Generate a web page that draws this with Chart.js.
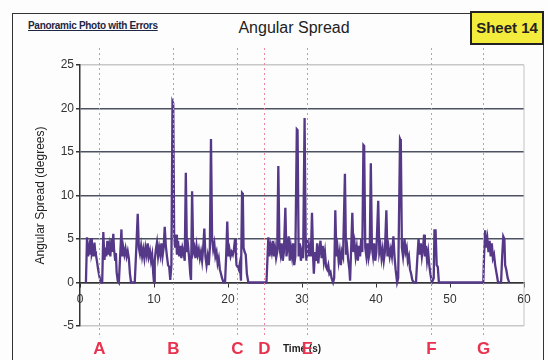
<!DOCTYPE html>
<html>
<head>
<meta charset="utf-8">
<script src="https://cdn.jsdelivr.net/npm/chart.js@4/dist/chart.umd.min.js"></script>
<style>
  body { margin: 0; background: #fdfdfd; font-family: "Liberation Sans", Arial, sans-serif; }
  #wrap { position: relative; width: 549px; height: 360px; overflow: hidden; }
  #frame { position: absolute; left: 12px; top: 13px; width: 530px; height: 360px; border: 1.5px solid #333; }
  #sub { position: absolute; left: 28px; top: 20px; font-size: 10px; font-weight: bold; color: #1d2744; text-decoration: underline; letter-spacing: -0.3px; }
  #title { position: absolute; left: 194px; width: 200px; top: 19px; text-align: center; font-size: 16px; color: #222; }
  #sheet { position: absolute; left: 470px; top: 11px; width: 70px; height: 30px; background: #f4ec3c; border: 2px solid #222; font-size: 15px; font-weight: bold; color: #222; text-align: center; line-height: 30px; }
  canvas { position: absolute; left: 0; top: 0; }
</style>
</head>
<body>
<div id="wrap">
  <div id="frame"></div>
  <div id="sub">Panoramic Photo with Errors</div>
  <div id="title">Angular Spread</div>
  <div id="sheet">Sheet 14</div>
  <canvas id="my-chart" width="549" height="360"></canvas>
</div>
<script>
// time (s) and angular spread (degrees)
let times = [
  0.8, 0.95, 1.1, 1.25, 1.35, 1.5, 1.6, 1.75, 1.85, 1.95, 2.05, 2.15, 2.3, 2.45, 2.6, 2.75, 2.9, 3.0,
  3.15, 3.3, 3.45, 3.55, 3.7, 3.8, 3.95, 4.1, 4.25, 4.35, 4.5, 4.6, 4.75, 4.85, 4.95, 5.1, 5.25,
  5.45, 5.6, 5.7, 5.85, 6.0, 6.15, 6.3, 6.45, 6.6, 6.75, 6.9, 7.4,
  7.6, 7.8, 7.95, 8.1, 8.25, 8.4, 8.55, 8.7, 8.85, 9.0, 9.15, 9.3, 9.45, 9.6, 9.75, 9.9, 10.0,
  10.1, 10.25, 10.4, 10.55, 10.7, 10.85, 11.0, 11.15, 11.3, 11.45, 11.6, 11.75, 11.9, 12.05, 12.2, 12.35,
  12.5, 12.6, 12.72, 12.85, 13.0, 13.1, 13.25, 13.4, 13.55, 13.7, 13.85, 14.0, 14.15,
  14.3, 14.45, 14.6, 14.75, 14.9, 15.0, 15.15, 15.3, 15.45, 15.6, 15.75, 15.9, 16.05, 16.2, 16.35, 16.5, 16.65,
  16.8, 16.95, 17.1, 17.25, 17.4, 17.55, 17.7, 17.85, 18.0, 18.15, 18.3, 18.45, 18.6, 18.75, 18.9, 19.05, 19.2, 19.4, 19.6,
  19.75, 19.9, 20.05, 20.2, 20.35, 20.5, 20.65, 20.8, 20.95, 21.05, 21.15, 21.3, 21.45, 21.6, 21.75,
  21.9, 22.0, 22.1, 22.25, 22.4, 22.55, 22.75, 25.2,
  25.45, 25.6, 25.75, 25.9, 26.05, 26.2, 26.35, 26.5, 26.65, 26.8, 26.95, 27.1, 27.25, 27.4, 27.55,
  27.75, 27.9, 28.05, 28.2, 28.35, 28.5, 28.65, 28.8, 28.95, 29.1, 29.3, 29.4, 29.55, 29.7, 29.85, 30.0, 30.15,
  30.35, 30.5, 30.6, 30.75, 30.9, 31.05, 31.2, 31.35, 31.5, 31.6, 31.75, 31.9, 32.05, 32.2,
  32.35, 32.5, 32.65, 32.8, 32.95, 33.1, 33.25, 33.4, 33.55, 33.7, 33.85, 34.0, 34.2, 34.35,
  34.5, 34.65, 34.8, 34.95, 35.1, 35.25, 35.4, 35.55, 35.8, 35.95, 36.1, 36.25, 36.4, 36.5,
  36.8, 36.95, 37.1, 37.25, 37.4, 37.55, 37.7, 37.85, 38.0, 38.15, 38.3, 38.4, 38.55, 38.7, 38.85, 39.0, 39.15,
  39.3, 39.45, 39.6, 39.75, 39.9, 40.05, 40.3, 40.45, 40.6, 40.75, 40.9, 41.05, 41.2,
  41.4, 41.55, 41.7, 41.85, 42.0, 42.15, 42.35, 42.5, 42.65, 42.85, 43.0,
  43.25, 43.35, 43.5, 43.65, 43.85, 44.0, 44.15, 44.3, 44.45, 44.6, 44.75, 44.9, 45.1, 45.4,
  45.6, 45.75, 45.9, 46.05, 46.2, 46.35, 46.5, 46.6, 46.75, 46.9, 47.05, 47.2, 47.35, 47.55,
  47.8, 47.9, 48.05, 48.2, 48.35, 48.5, 54.5,
  54.6, 54.75, 54.9, 55.05, 55.2, 55.35, 55.5, 55.65, 55.8, 55.95, 56.1, 56.3, 56.5, 56.9,
  57.05, 57.2, 57.35, 57.45, 57.6, 57.8, 58.0
];
let angles = [
  0, 5.2, 3.0, 4.0, 3.2, 5.1, 3.3, 3.8, 3.0, 4.6, 3.6, 3.2, 2.4, 1.5, 0.8, 0.2, 0, 0,
  5.8, 2.6, 4.0, 3.0, 4.8, 3.2, 4.2, 3.0, 5.0, 3.5, 5.6, 3.8, 2.6, 3.4, 1.2, 0.2, 0,
  3.5, 6.1, 3.0, 4.0, 3.2, 3.9, 3.0, 3.6, 2.8, 1.0, 0, 0,
  3.8, 7.9, 4.0, 3.3, 4.2, 3.0, 3.8, 2.8, 4.0, 3.2, 4.5, 3.0, 3.6, 2.5, 3.2, 1.0, 0,
  2.5, 3.8, 4.6, 3.0, 4.0, 3.2, 4.5, 3.0, 4.0, 6.4, 4.2, 3.0, 2.0, 1.8, 0.3, 2.0,
  20.8, 20.6, 5.5, 4.0, 5.5, 3.2, 4.8, 3.0, 4.2, 2.8, 4.0, 3.5, 2.5,
  12.6, 3.5, 4.2, 2.8, 1.0, 0.3, 10.5, 3.5, 4.0, 2.8, 4.2, 3.2, 3.8, 2.8, 3.5, 2.5, 4.0,
  6.2, 3.0, 2.0, 3.0, 2.0, 4.0, 16.5, 5.0, 3.8, 4.5, 3.0, 3.5, 2.2, 2.8, 1.5, 1.0, 0.5, 0, 0,
  3.0, 7.0, 3.0, 3.8, 3.0, 3.5, 3.2, 3.8, 5.0, 3.5, 2.0, 1.8, 1.5, 2.2, 0.2,
  10.3, 10.2, 4.0, 3.5, 3.2, 1.0, 0, 0,
  5.2, 3.0, 4.2, 3.5, 4.8, 3.0, 4.0, 2.8, 3.5, 13.4, 4.0, 3.2, 4.5, 2.5, 3.5,
  8.6, 3.0, 4.0, 5.3, 2.5, 4.0, 3.0, 4.5, 2.0, 3.0, 17.6, 17.5, 3.0, 4.5, 2.5, 3.5, 2.8,
  18.9, 4.0, 2.5, 5.0, 3.0, 4.0, 3.0, 8.0, 3.0, 1.0, 3.5, 2.5, 4.5, 2.2,
  3.8, 4.8, 2.8, 4.2, 2.5, 3.5, 1.8, 1.5, 2.0, 1.0, 1.2, 0.5, 0, 0.5,
  8.3, 3.0, 4.0, 2.5, 3.5, 2.0, 3.5, 3.0, 12.5, 3.2, 4.0, 2.5, 1.5, 0.2,
  8.0, 3.5, 4.5, 3.0, 4.0, 2.5, 4.2, 3.0, 5.0, 3.5, 15.8, 15.7, 4.0, 3.0, 4.5, 2.8, 3.5,
  13.7, 4.0, 3.0, 4.5, 2.5, 3.5, 9.4, 3.5, 4.2, 2.8, 3.8, 2.5, 3.5,
  8.3, 3.0, 4.0, 3.0, 3.8, 3.0, 5.3, 3.0, 1.5, 0, 0.5,
  16.5, 16.3, 4.0, 3.0, 5.0, 3.5, 4.0, 2.5, 3.0, 1.5, 1.0, 0.3, 0, 0,
  3.0, 5.0, 3.2, 4.5, 3.0, 4.0, 5.5, 3.0, 4.2, 2.5, 3.5, 2.0, 1.0, 0,
  0.5, 6.0, 6.0, 2.0, 1.8, 0, 0,
  3.0, 6.0, 4.0, 5.0, 3.5, 4.8, 3.0, 4.5, 2.8, 3.2, 2.0, 1.0, 0, 0,
  3.0, 5.3, 5.0, 2.0, 1.5, 0.5, 0
];
// marked events
let eventNames = ['A', 'B', 'C', 'D', 'E', 'F', 'G'];
let eventTimes = [2.6, 12.55, 21.2, 24.85, 30.7, 47.45, 54.45];

let points = times.map((t, i) => ({ x: t, y: angles[i] }));

const eventLines = {
    id: 'eventLines',
    afterDatasetsDraw(chart) {
        let ctx = chart.ctx;
        let area = chart.chartArea;
        let xs = chart.scales.x;
        ctx.save();
        // right border of plot
        ctx.strokeStyle = '#c4c4c4';
        ctx.lineWidth = 1;
        ctx.beginPath();
        ctx.moveTo(area.right, area.top);
        ctx.lineTo(area.right, area.bottom);
        ctx.stroke();

        ctx.strokeStyle = '#f0879c';
        ctx.setLineDash([2, 3]);
        ctx.fillStyle = '#e8334f';
        ctx.font = 'bold 17px "Liberation Sans", Arial, sans-serif';
        ctx.textAlign = 'center';
        ctx.textBaseline = 'middle';
        for (let i = 0; i < eventTimes.length; i++) {
            let px = Math.round(xs.getPixelForValue(eventTimes[i])) + 0.5;
            ctx.beginPath();
            ctx.moveTo(px, area.top - 17);
            ctx.lineTo(px, area.bottom + 11);
            ctx.stroke();
            ctx.fillText(eventNames[i], px, area.bottom + 23);
        }
        ctx.restore();
    }
};

let myChart = new Chart(document.getElementById('my-chart').getContext('2d'), {
    type: 'line',
    data: {
        datasets: [{
            data: points,
            borderColor: '#553887',
            borderWidth: 2.3,
            pointRadius: 0,
            tension: 0,
            fill: false
        }]
    },
    options: {
        responsive: false,
        animation: false,
        devicePixelRatio: 1,
        layout: { padding: { left: 14, top: 65, right: 25, bottom: 34 } },
        plugins: { legend: { display: false }, tooltip: { enabled: false } },
        scales: {
            x: {
                type: 'linear',
                position: { y: 0 },
                min: 0,
                max: 60,
                ticks: { stepSize: 10, padding: 6, color: '#333', font: { size: 12, family: '"Liberation Sans", Arial' } },
                grid: { drawOnChartArea: false, tickLength: 4, tickColor: '#333' },
                border: { color: '#333', width: 1.5 },
                title: {
                    display: true,
                    text: 'Time (s)',
                    color: '#222',
                    font: { size: 10, weight: 'bold', family: '"Liberation Sans", Arial' },
                    padding: { top: 30, bottom: 0 }
                }
            },
            y: {
                min: -5,
                max: 25,
                afterFit: (s) => { s.width = 66; },
                ticks: { stepSize: 5, padding: 2, color: '#333', font: { size: 12, family: '"Liberation Sans", Arial' } },
                grid: {
                    tickLength: 4,
                    tickColor: '#333',
                    lineWidth: 1.5,
                    color: (c) => (c.tick && (c.tick.value === 25 || c.tick.value === -5)) ? '#c8c8c8' : '#4c5262'
                },
                border: { color: '#333', width: 1.5 },
                title: {
                    display: true,
                    text: 'Angular Spread (degrees)',
                    color: '#222',
                    font: { size: 12, family: '"Liberation Sans", Arial' },
                    padding: { top: 19, bottom: 0 }
                }
            }
        }
    },
    plugins: [eventLines]
});
</script>
</body>
</html>
